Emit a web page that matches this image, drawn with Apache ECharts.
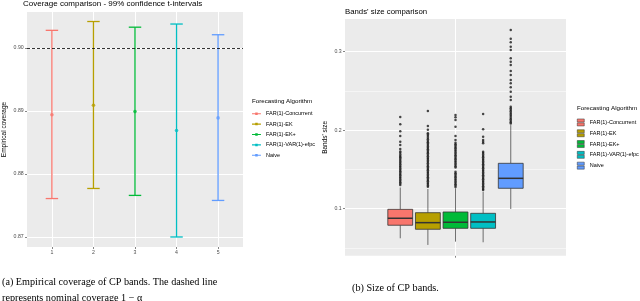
<!DOCTYPE html>
<html><head><meta charset="utf-8">
<script src="https://cdn.jsdelivr.net/npm/echarts@6/dist/echarts.min.js"></script>
<style>html,body{margin:0;padding:0;background:#fff}#c{width:640px;height:301px}</style>
</head><body><div id="c"></div>
<script>
// ---------- data ----------
const algorithms = ['FAR(1)-Concurrent', 'FAR(1)-EK', 'FAR(1)-EK+', 'FAR(1)-VAR(1)-efpc', 'Naive'];
const colors = ['#F8766D', '#B79F00', '#00BA38', '#00BFC4', '#619CFF'];

// panel (a): coverage, 99% t-intervals
const coverageX = [1, 2, 3, 4, 5];
const coverageLower = [0.8761, 0.8777, 0.8766, 0.8700, 0.8758];
const coveragePoint = [0.8894, 0.8909, 0.8899, 0.8869, 0.8889];
const coverageUpper = [0.9028, 0.9042, 0.9033, 0.9038, 0.9021];
const nominalCoverage = 0.90;
const coverageTicks = [0.87, 0.88, 0.89, 0.90];
const coverageMinorTicks = [0.875, 0.885, 0.895, 0.905];

// panel (b): bands' size boxplots
const sizeLow = [0.0623, 0.0538, 0.0580, 0.0572, 0.0996];
const sizeQ1 = [0.0789, 0.0738, 0.0750, 0.0750, 0.1260];
const sizeMedian = [0.0878, 0.0822, 0.0827, 0.0831, 0.1387];
const sizeQ3 = [0.0992, 0.0949, 0.0958, 0.0941, 0.1578];
const sizeHigh = [0.1270, 0.1250, 0.1260, 0.1215, 0.2065];
const outliersConcurrent = [0.2168, 0.2075, 0.1986, 0.1927, 0.1853, 0.1813, 0.1762, 0.1730, 0.1712, 0.1690, 0.1672, 0.1655, 0.1638, 0.1620, 0.1601, 0.1585, 0.1566, 0.1548, 0.1530, 0.1512, 0.1495, 0.1478, 0.1460, 0.1442, 0.1425, 0.1408, 0.1390, 0.1372, 0.1355, 0.1338, 0.1320, 0.1303];
const outliersEK = [0.2245, 0.2055, 0.2005, 0.1962, 0.1945, 0.1925, 0.1905, 0.1885, 0.1866, 0.1848, 0.1830, 0.1810, 0.1792, 0.1775, 0.1757, 0.1740, 0.1722, 0.1705, 0.1686, 0.1668, 0.1650, 0.1632, 0.1615, 0.1597, 0.1578, 0.1560, 0.1542, 0.1525, 0.1507, 0.1490, 0.1472, 0.1455, 0.1437, 0.1420, 0.1402, 0.1385, 0.1367, 0.1350, 0.1332, 0.1315, 0.1297, 0.1280];
const outliersEKplus = [0.2194, 0.2164, 0.2130, 0.2045, 0.1926, 0.1875, 0.1840, 0.1822, 0.1805, 0.1787, 0.1770, 0.1752, 0.1735, 0.1717, 0.1700, 0.1682, 0.1665, 0.1647, 0.1630, 0.1612, 0.1595, 0.1577, 0.1560, 0.1542, 0.1525, 0.1470, 0.1452, 0.1435, 0.1417, 0.1400, 0.1382, 0.1365, 0.1347, 0.1330, 0.1312, 0.1295, 0.1277];
const outliersVAR = [0.2206, 0.2011, 0.1917, 0.1875, 0.1853, 0.1833, 0.1726, 0.1708, 0.1690, 0.1672, 0.1655, 0.1637, 0.1620, 0.1602, 0.1585, 0.1567, 0.1550, 0.1532, 0.1515, 0.1497, 0.1480, 0.1462, 0.1445, 0.1427, 0.1410, 0.1392, 0.1375, 0.1357, 0.1340, 0.1322, 0.1305, 0.1287, 0.1270, 0.1252, 0.1237];
const outliersNaive = [0.3276, 0.3166, 0.3120, 0.3064, 0.3022, 0.2916, 0.2873, 0.2831, 0.2755, 0.2704, 0.2640, 0.2597, 0.2546, 0.2490, 0.2427, 0.2385, 0.2299, 0.2280, 0.2260, 0.2240, 0.2220, 0.2200, 0.2180, 0.2160, 0.2140, 0.2120, 0.2100, 0.2085];
const sizeOutliers = [outliersConcurrent, outliersEK, outliersEKplus, outliersVAR, outliersNaive];
const sizeTicks = [0.1, 0.2, 0.3];
const sizeMinorTicks = [0.05, 0.15, 0.25];

// ---------- chart ----------
const chart = echarts.init(document.getElementById('c'), null, {renderer: 'canvas'});
const SANS = 'Liberation Sans';
const SERIF = 'Liberation Serif';
const tickStyle = {color: '#333333', width: 0.6};
const labelStyle = {fontFamily: SANS, fontSize: 5.2, color: '#4D4D4D'};
const capHalf = 0.15;
const dodge = 0.15;
const boxHalf = 0.0675;

function gridLines(id, xVals, yVals, yMinor) {
  const data = [];
  yMinor.forEach(v => data.push({yAxis: v, lineStyle: {color: '#FFFFFF', width: 0.5, type: 'solid'}}));
  yVals.forEach(v => data.push({yAxis: v, lineStyle: {color: '#FFFFFF', width: 1, type: 'solid'}}));
  xVals.forEach(v => data.push({xAxis: v, lineStyle: {color: '#FFFFFF', width: 1, type: 'solid'}}));
  return {
    type: 'line', name: '__grid' + id, xAxisIndex: id, yAxisIndex: id, data: [], silent: true, z: 1,
    markLine: {silent: true, symbol: ['none', 'none'], label: {show: false}, z: 1, animation: false, data: data}
  };
}

const series = [gridLines(0, coverageX, coverageTicks, coverageMinorTicks), gridLines(1, [1], sizeTicks, sizeMinorTicks)];

algorithms.forEach((name, i) => {
  series.push({
    type: 'custom', name: name, xAxisIndex: 0, yAxisIndex: 0, z: 2,
    itemStyle: {color: colors[i]},
    encode: {x: 0, y: [1, 2]},
    data: [[coverageX[i], coverageLower[i], coverageUpper[i]]],
    renderItem: function (params, api) {
      const x = api.value(0), lo = api.value(1), hi = api.value(2);
      const a = api.coord([x, lo]), b = api.coord([x, hi]);
      const l1 = api.coord([x - capHalf, lo]), r1 = api.coord([x + capHalf, lo]);
      const l2 = api.coord([x - capHalf, hi]), r2 = api.coord([x + capHalf, hi]);
      const st = {stroke: colors[i], lineWidth: 1.3};
      return {type: 'group', children: [
        {type: 'line', shape: {x1: a[0], y1: a[1], x2: b[0], y2: b[1]}, style: st},
        {type: 'line', shape: {x1: l1[0], y1: l1[1], x2: r1[0], y2: r1[1]}, style: st},
        {type: 'line', shape: {x1: l2[0], y1: l2[1], x2: r2[0], y2: r2[1]}, style: st}
      ]};
    }
  });
  series.push({
    type: 'scatter', name: name, xAxisIndex: 0, yAxisIndex: 0, z: 3,
    symbol: 'circle', symbolSize: 3.6, itemStyle: {color: colors[i]},
    data: [[coverageX[i], coveragePoint[i]]]
  });
});

series.push({
  type: 'line', name: '__nominal', xAxisIndex: 0, yAxisIndex: 0, data: [], silent: true, z: 4,
  markLine: {silent: true, symbol: ['none', 'none'], label: {show: false}, z: 4, animation: false,
    lineStyle: {color: '#000000', width: 0.8, type: [3, 2]},
    data: [{yAxis: nominalCoverage}]}
});

algorithms.forEach((name, i) => {
  const bx = 1 + (i - 2) * dodge;
  series.push({
    type: 'custom', name: name, xAxisIndex: 1, yAxisIndex: 1, z: 2,
    itemStyle: {color: colors[i]},
    encode: {x: 0, y: [1, 5]},
    data: [[bx, sizeLow[i], sizeQ1[i], sizeMedian[i], sizeQ3[i], sizeHigh[i]]],
    renderItem: function (params, api) {
      const x = api.value(0);
      const pLow = api.coord([x, api.value(1)]);
      const pQ1 = api.coord([x, api.value(2)]);
      const pMed = api.coord([x - boxHalf, api.value(3)]);
      const pMedR = api.coord([x + boxHalf, api.value(3)]);
      const pQ3 = api.coord([x, api.value(4)]);
      const pHigh = api.coord([x, api.value(5)]);
      const left = api.coord([x - boxHalf, api.value(4)]);
      const right = api.coord([x + boxHalf, api.value(2)]);
      const ws = {stroke: '#333333', lineWidth: 0.7};
      return {type: 'group', children: [
        {type: 'line', shape: {x1: pLow[0], y1: pLow[1], x2: pQ1[0], y2: pQ1[1]}, style: ws},
        {type: 'line', shape: {x1: pQ3[0], y1: pQ3[1], x2: pHigh[0], y2: pHigh[1]}, style: ws},
        {type: 'rect', shape: {x: left[0], y: left[1], width: right[0] - left[0], height: right[1] - left[1]},
          style: {fill: colors[i], stroke: '#333333', lineWidth: 0.8}},
        {type: 'line', shape: {x1: pMed[0], y1: pMed[1], x2: pMedR[0], y2: pMedR[1]}, style: {stroke: '#333333', lineWidth: 1.5}}
      ]};
    }
  });
  series.push({
    type: 'scatter', name: name, xAxisIndex: 1, yAxisIndex: 1, z: 3,
    symbol: 'circle', symbolSize: 2.5, itemStyle: {color: '#1A1A1A'},
    data: sizeOutliers[i].map(v => [bx, v])
  });
});

const lineKey = 'path://M0,4.4L10,4.4L10,5.6L0,5.6Z M3.6,3.6L6.4,3.6L6.4,6.4L3.6,6.4Z';
const boxKey = 'path://M0,0L10,0L10,4.4L0,4.4Z M0,5.6L10,5.6L10,10L0,10Z';

const option = {
  animation: false,
  backgroundColor: '#FFFFFF',
  title: [
    {text: 'Coverage comparison - 99% confidence t-intervals', left: 23, top: 0, padding: 0,
      textStyle: {fontFamily: SANS, fontSize: 8, fontWeight: 'normal', color: '#000'}},
    {text: "Bands' size comparison", left: 345, top: 8, padding: 0,
      textStyle: {fontFamily: SANS, fontSize: 7.8, fontWeight: 'normal', color: '#000'}},
    {text: 'Forecasting Algorithm', left: 252, top: 98.5, padding: 0,
      textStyle: {fontFamily: SANS, fontSize: 6.2, fontWeight: 'normal', color: '#000'}},
    {text: 'Forecasting Algorithm', left: 577, top: 105, padding: 0,
      textStyle: {fontFamily: SANS, fontSize: 6.2, fontWeight: 'normal', color: '#000'}},
    {text: '(a) Empirical coverage of CP bands. The dashed line', left: 2, top: 277, padding: 0,
      textStyle: {fontFamily: SERIF, fontSize: 10.2, fontWeight: 'normal', color: '#000'}},
    {text: 'represents nominal coverage 1 \u2212 \u03b1', left: 2, top: 293, padding: 0,
      textStyle: {fontFamily: SERIF, fontSize: 10.2, fontWeight: 'normal', color: '#000'}},
    {text: '(b) Size of CP bands.', left: 352, top: 283, padding: 0,
      textStyle: {fontFamily: SERIF, fontSize: 10.2, fontWeight: 'normal', color: '#000'}}
  ],
  legend: [
    {orient: 'vertical', left: 252, top: 110.7, padding: 0, itemGap: 4.4, itemWidth: 9, itemHeight: 2.5,
      selectedMode: false, textStyle: {fontFamily: SANS, fontSize: 5.5, color: '#000', lineHeight: 6},
      data: algorithms.map((n, i) => ({name: n, icon: lineKey, itemStyle: {color: colors[i], borderWidth: 0}}))},
    {orient: 'vertical', left: 577, top: 118.7, padding: 0, itemGap: 3.3, itemWidth: 8, itemHeight: 7,
      selectedMode: false, textStyle: {fontFamily: SANS, fontSize: 5.5, color: '#000', lineHeight: 6},
      data: algorithms.map((n, i) => ({name: n, icon: boxKey, itemStyle: {color: colors[i], borderColor: '#333333', borderWidth: 0.5}}))}
  ],
  grid: [
    {left: 25, right: 397, top: 12, bottom: 54, show: true, backgroundColor: '#EBEBEB', borderWidth: 0, containLabel: false},
    {left: 345, right: 74, top: 19, bottom: 45.3, show: true, backgroundColor: '#EBEBEB', borderWidth: 0, containLabel: false}
  ],
  xAxis: [
    {type: 'value', gridIndex: 0, min: 0.4, max: 5.6, splitLine: {show: false}, axisLine: {show: false},
      axisTick: {show: true, length: 2, lineStyle: tickStyle, customValues: coverageX},
      axisLabel: Object.assign({margin: 3.5, customValues: coverageX, formatter: v => String(v)}, labelStyle)},
    {type: 'value', gridIndex: 1, min: 0.4, max: 1.6, splitLine: {show: false}, axisLine: {show: false},
      axisTick: {show: true, length: 2, lineStyle: tickStyle, customValues: [1]},
      axisLabel: Object.assign({margin: 3.5, customValues: [1], formatter: () => ''}, labelStyle)}
  ],
  yAxis: [
    {type: 'value', gridIndex: 0, min: 0.86841, max: 0.90571, splitLine: {show: false}, axisLine: {show: false},
      axisTick: {show: true, length: 2, lineStyle: tickStyle, customValues: coverageTicks},
      axisLabel: Object.assign({margin: 3.3, customValues: coverageTicks, formatter: v => v.toFixed(2)}, labelStyle),
      name: 'Empirical coverage', nameLocation: 'middle', nameGap: 19,
      nameTextStyle: {fontFamily: SANS, fontSize: 6.5, color: '#000'}},
    {type: 'value', gridIndex: 1, min: 0.0401, max: 0.3417, splitLine: {show: false}, axisLine: {show: false},
      axisTick: {show: true, length: 2, lineStyle: tickStyle, customValues: sizeTicks},
      axisLabel: Object.assign({margin: 3.3, customValues: sizeTicks, formatter: v => v.toFixed(1)}, labelStyle),
      name: "Bands' size", nameLocation: 'middle', nameGap: 16,
      nameTextStyle: {fontFamily: SANS, fontSize: 6.5, color: '#000'}}
  ],
  series: series
};
chart.setOption(option);
</script>
</body></html>
